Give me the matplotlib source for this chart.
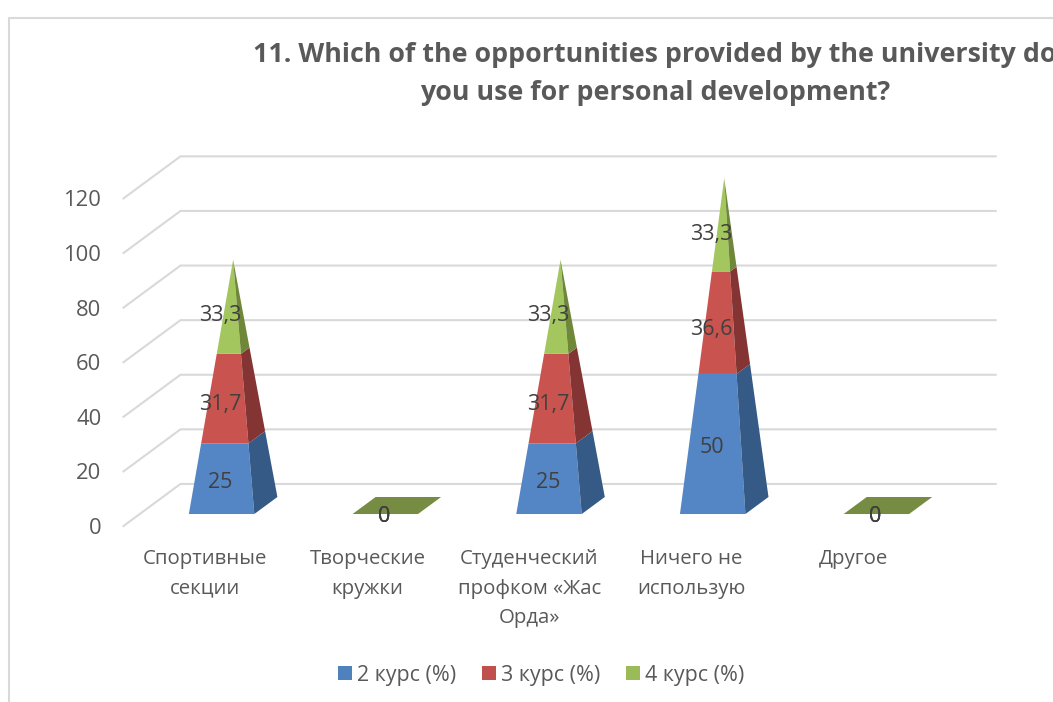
# Stacked 3D-looking pyramid chart for question 11, built on a flat axes.

import matplotlib
matplotlib.use("Agg")
import matplotlib.pyplot as plt
from matplotlib.lines import Line2D
from matplotlib.patches import Patch, Polygon

categories = ["Спортивные\nсекции", "Творческие\nкружки", "Студенческий\nпрофком «Жас\nОрда»",
              "Ничего не\nиспользую", "Другое"]
course_2 = [25, 0, 25, 50, 0]
course_3 = [31.7, 0, 31.7, 36.6, 0]
course_4 = [33.3, 0, 33.3, 33.3, 0]
series_names = ["2 курс (%)", "3 курс (%)", "4 курс (%)"]
y_ticks = [0, 20, 40, 60, 80, 100, 120]
title = "11. Which of the opportunities provided by the university do\nyou use for personal development?"

front_colors = ["#5485C5", "#C9544F", "#A4C65F"]
side_colors = ["#355A85", "#843432", "#6F8739"]
legend_colors = ["#4F81BD", "#C0504D", "#9BBB59"]
flat_color = "#778C43"
grid_color = "#D9D9D9"
text_color = "#595959"
label_color = "#404040"

# depth of the floor in data units (front wall to back wall)
depth_x = 0.348
depth_y = 15.4
# pyramid base: where it sits on the floor, as fractions of the depth
base_front = 0.285
base_back = 0.69
half_width = 0.2

plt.rcParams["font.family"] = ["Open Sans", "DejaVu Sans"]

W, H = 1053, 702
fig = plt.figure(figsize=(W / 100, H / 100), dpi=100)
ax = fig.add_axes([123.5 / W, 1 - 526 / H, 818.5 / W, 327.6 / H])
ax.set_xlim(-0.5, 4.5)
ax.set_ylim(0, 120)
for s in ax.spines.values():
    s.set_visible(False)
ax.patch.set_visible(False)


def corner(i, total, v, u, w):
    # u, w are -1..1 across/along the base, shrinking toward the apex
    f = 1 - v / total if total else 1
    mid = (base_front + base_back) / 2
    half = (base_back - base_front) / 2
    x = i + mid * depth_x + f * (u * half_width + w * half * depth_x)
    y = v + mid * depth_y + f * w * half * depth_y
    return x, y


def add_poly(points, color, z):
    ax.add_patch(Polygon(points, closed=True, facecolor=color, edgecolor="none", clip_on=False, zorder=z))


# walls
for v in y_ticks:
    ax.plot([-0.5, -0.5 + depth_x, 4.48 + depth_x], [v, v + depth_y, v + depth_y], color=grid_color,
            lw=1.5, clip_on=False, zorder=1, solid_joinstyle="miter")

stacks = [course_2, course_3, course_4]
for i in range(len(categories)):
    total = course_2[i] + course_3[i] + course_4[i]
    if total == 0:
        add_poly([corner(i, 0, 0, -1, -1), corner(i, 0, 0, 1, -1), corner(i, 0, 0, 1, 1), corner(i, 0, 0, -1, 1)],
                 flat_color, 3)
    bottom = 0
    for k, values in enumerate(stacks):
        top = bottom + values[i]
        if values[i] > 0:
            add_poly([corner(i, total, bottom, -1, -1), corner(i, total, bottom, 1, -1),
                      corner(i, total, top, 1, -1), corner(i, total, top, -1, -1)], front_colors[k], 3)
            add_poly([corner(i, total, bottom, 1, -1), corner(i, total, bottom, 1, 1),
                      corner(i, total, top, 1, 1), corner(i, total, top, 1, -1)], side_colors[k], 3)
        # text centre sits a little high in this font, so nudge it down
        ax.text(i + base_front * depth_x - 0.006, base_front * depth_y + bottom + values[i] / 2 - 0.8,
                str(values[i]).replace(".", ","), ha="center", va="center", fontsize=15.5,
                color=label_color, zorder=4)
        bottom = top

# labels are spaced a bit tighter than the pyramids in the original
ax.set_xticks([i * 0.99 for i in range(len(categories))])
ax.set_xticklabels(categories, fontsize=14.7, color=text_color, linespacing=1.65)
ax.set_yticks(y_ticks)
ax.set_yticklabels([str(v) for v in y_ticks], fontsize=15.8, color=text_color)
ax.tick_params(axis="both", length=0)
ax.tick_params(axis="x", pad=16.5)
ax.tick_params(axis="y", pad=16)

fig.text(655 / W, 1 - 74 / H, title, ha="center", va="center", fontsize=19.25, fontweight="bold",
         color=text_color, linespacing=1.56)

handles = [Patch(facecolor=c, edgecolor="none") for c in legend_colors]
fig.legend(handles, series_names, loc="center", bbox_to_anchor=(541 / W, 1 - 675 / H), ncol=3, frameon=False,
           fontsize=15.4, labelcolor=text_color, handlelength=0.65, handleheight=0.65, handletextpad=0.25,
           columnspacing=1.2)

# chart frame, runs off the picture on the right and bottom
fig.add_artist(Line2D([9 / W, 9 / W, 1], [0, 1 - 18 / H, 1 - 18 / H], color=grid_color, lw=1.5))

fig.savefig("out.png", dpi=100)
